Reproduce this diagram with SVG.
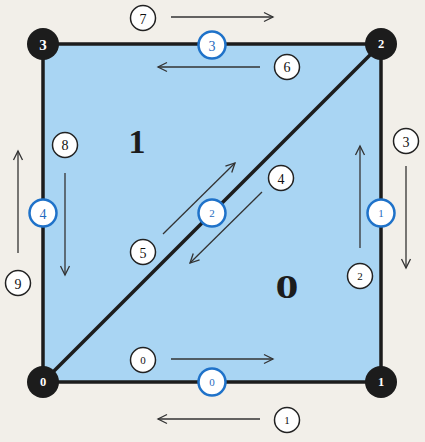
<svg xmlns="http://www.w3.org/2000/svg" width="425" height="442" viewBox="0 0 425 442">
<defs>
<marker id="ah" markerWidth="12" markerHeight="12" refX="10" refY="6" orient="auto" markerUnits="userSpaceOnUse">
<path d="M1,1.5 L10,6 L1,10.5" fill="none" stroke="#333" stroke-width="1.3"/>
</marker>
</defs>
<style>
text{font-family:"Liberation Serif","DejaVu Serif",serif;text-anchor:middle;dominant-baseline:central;font-variant-numeric:oldstyle-nums}
.arr{stroke:#333;stroke-width:1.3;fill:none;marker-end:url(#ah)}
.vtx circle{fill:#1c1c1c}
.vtx text{fill:#fff;font-weight:bold;font-size:15px}
.edg circle{fill:#fff;stroke:#1f72c9;stroke-width:2.5}
.edg text{fill:#1f6bc0;font-size:14px}
.he circle{fill:#fff;stroke:#222;stroke-width:1.5}
.he text{fill:#111;font-size:14px}
.vtx text.sm{font-size:12.5px}
.edg text.sm,.he text.sm{font-size:11px}
.face{fill:#1c1c1c;font-weight:bold;font-size:34px}
</style>
<rect width="425" height="442" fill="#f2efe9"/>
<g id="faces">
<polygon points="43,44 381,44 381,382 43,382" fill="#a9d5f3"/>
<text class="face" x="137" y="141">1</text>
<text class="face" transform="translate(287,287) scale(1.35,1)" x="0" y="0">0</text>
</g>
<g id="edges-lines" stroke="#1c1c1c" stroke-width="3.5" fill="none">
<polygon points="43,44 381,44 381,382 43,382"/>
<line x1="43" y1="382" x2="381" y2="44"/>
</g>
<g id="connectors">
<line class="arr" x1="171" y1="17" x2="273" y2="17"/>
<line class="arr" x1="260" y1="67" x2="158" y2="67"/>
<line class="arr" x1="65" y1="173" x2="65" y2="275"/>
<line class="arr" x1="18" y1="253" x2="18" y2="151"/>
<line class="arr" x1="406" y1="166" x2="406" y2="268"/>
<line class="arr" x1="360" y1="248" x2="360" y2="146"/>
<line class="arr" x1="262" y1="192" x2="190" y2="263"/>
<line class="arr" x1="163" y1="234" x2="235" y2="163"/>
<line class="arr" x1="171" y1="359" x2="273" y2="359"/>
<line class="arr" x1="260" y1="419" x2="158" y2="419"/>
</g>
<g id="v0" class="vtx"><circle cx="43" cy="382" r="16"/><text class="sm" x="43" y="382">0</text></g>
<g id="v1" class="vtx"><circle cx="381" cy="382" r="16"/><text class="sm" x="381" y="382">1</text></g>
<g id="v2" class="vtx"><circle cx="381" cy="44" r="16"/><text class="sm" x="381" y="44">2</text></g>
<g id="v3" class="vtx"><circle cx="43" cy="44" r="16"/><text x="43" y="45">3</text></g>
<g id="e0" class="edg"><circle cx="212" cy="382" r="13.5"/><text class="sm" x="212" y="382">0</text></g>
<g id="e1" class="edg"><circle cx="381" cy="213" r="13.5"/><text class="sm" x="381" y="213">1</text></g>
<g id="e2" class="edg"><circle cx="212" cy="213" r="13.5"/><text class="sm" x="212" y="213">2</text></g>
<g id="e3" class="edg"><circle cx="212" cy="45" r="13.5"/><text x="212" y="46">3</text></g>
<g id="e4" class="edg"><circle cx="43" cy="213" r="13.5"/><text x="43" y="214">4</text></g>
<g id="h0" class="he"><circle cx="143" cy="360" r="12.5"/><text class="sm" x="143" y="360">0</text></g>
<g id="h1" class="he"><circle cx="287" cy="420" r="12.5"/><text class="sm" x="287" y="420">1</text></g>
<g id="h2" class="he"><circle cx="360" cy="276" r="12.5"/><text class="sm" x="360" y="276">2</text></g>
<g id="h3" class="he"><circle cx="406" cy="141" r="12.5"/><text x="406" y="142">3</text></g>
<g id="h4" class="he"><circle cx="281" cy="178" r="12.5"/><text x="281" y="179">4</text></g>
<g id="h5" class="he"><circle cx="143" cy="252" r="12.5"/><text x="143" y="253">5</text></g>
<g id="h6" class="he"><circle cx="287" cy="67" r="12.5"/><text x="287" y="67">6</text></g>
<g id="h7" class="he"><circle cx="143" cy="18" r="12.5"/><text x="143" y="19">7</text></g>
<g id="h8" class="he"><circle cx="65" cy="145" r="12.5"/><text x="65" y="145">8</text></g>
<g id="h9" class="he"><circle cx="18" cy="283" r="12.5"/><text x="18" y="284">9</text></g>
</svg>
